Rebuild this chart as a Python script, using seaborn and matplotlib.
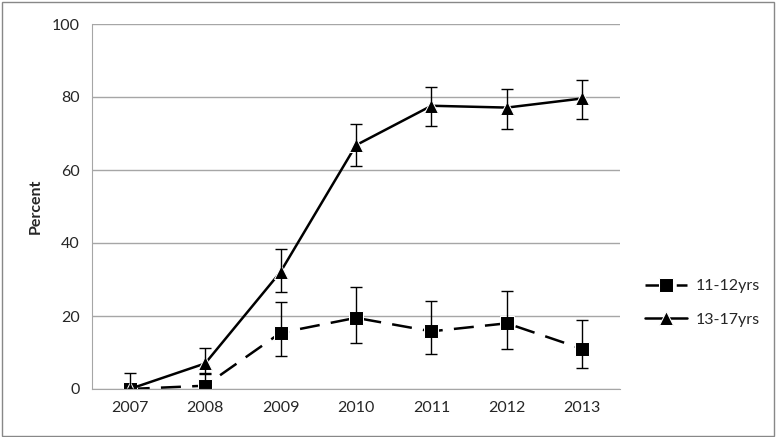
import pandas as pd
import matplotlib.pyplot as plt
import seaborn as sns

years = ["2007", "2008", "2009", "2010", "2011", "2012", "2013"]
young = [0.0, 0.9, 15.4, 19.5, 15.8, 18.0, 11.0]
young_lo = [0.0, 0.0, 9.1, 12.7, 9.5, 11.0, 5.7]
young_hi = [4.3, 4.4, 23.9, 28.0, 24.1, 26.8, 18.9]
teen = [0.0, 7.0, 32.1, 66.8, 77.6, 77.1, 79.6]
teen_lo = [0.0, 4.0, 26.7, 61.2, 72.0, 71.3, 74.0]
teen_hi = [0.0, 11.1, 38.3, 72.5, 82.8, 82.3, 84.7]

sns.set_style("white")
plt.rcParams["font.family"] = ["Lato", "DejaVu Sans"]

df = pd.DataFrame({
    "Year": years * 2,
    "Percent": young + teen,
    "Group": ["11-12yrs"] * 7 + ["13-17yrs"] * 7,
})
df["x"] = list(range(7)) * 2

fig = plt.figure(figsize=(7.76, 4.37), dpi=100)
ax = fig.add_axes([92 / 776, 1 - 389 / 437, 528 / 776, 365 / 437])

sns.lineplot(data=df, x="x", y="Percent", hue="Group", style="Group",
             palette=["black", "black"], markers={"11-12yrs": "s", "13-17yrs": "^"},
             dashes={"11-12yrs": (8, 4.5), "13-17yrs": ""}, markersize=10,
             linewidth=1.8, ax=ax, legend=True)

xs = list(range(7))
for vals, lo, hi in [(young, young_lo, young_hi), (teen, teen_lo, teen_hi)]:
    err = [[v - l for v, l in zip(vals, lo)], [h - v for v, h in zip(vals, hi)]]
    ax.errorbar(xs, vals, yerr=err, fmt="none", ecolor="black", elinewidth=1,
                capsize=4, capthick=1)

ax.set_xlim(-0.5, 6.5)
ax.set_ylim(0, 100)
ax.set_yticks([0, 20, 40, 60, 80, 100])
ax.set_xticks(xs)
ax.set_xticklabels(years)
ax.yaxis.grid(True, color="#a6a6a6", linewidth=1)
ax.set_axisbelow(True)
for s in ["top", "right"]:
    ax.spines[s].set_visible(False)
for s in ["left", "bottom"]:
    ax.spines[s].set_color("#a6a6a6")
ax.tick_params(labelsize=11.5, length=0, pad=9)
ax.set_xlabel("")
ax.set_ylabel("Percent", fontsize=11.5, fontweight="bold", labelpad=6)

handles, labels = ax.get_legend_handles_labels()
ax.legend(handles, labels, loc="center left", bbox_to_anchor=(645 / 776, 1 - 303 / 437),
          bbox_transform=fig.transFigure, frameon=False, fontsize=11.5,
          handlelength=2.6, handletextpad=0.6, borderpad=0, borderaxespad=0,
          labelspacing=1.2, title=None)

fig.patches.append(plt.Rectangle((0.002, 0.003), 0.995, 0.993, transform=fig.transFigure,
                                 fill=False, edgecolor="#888888", linewidth=1))

plt.savefig("out.png", dpi=100)
